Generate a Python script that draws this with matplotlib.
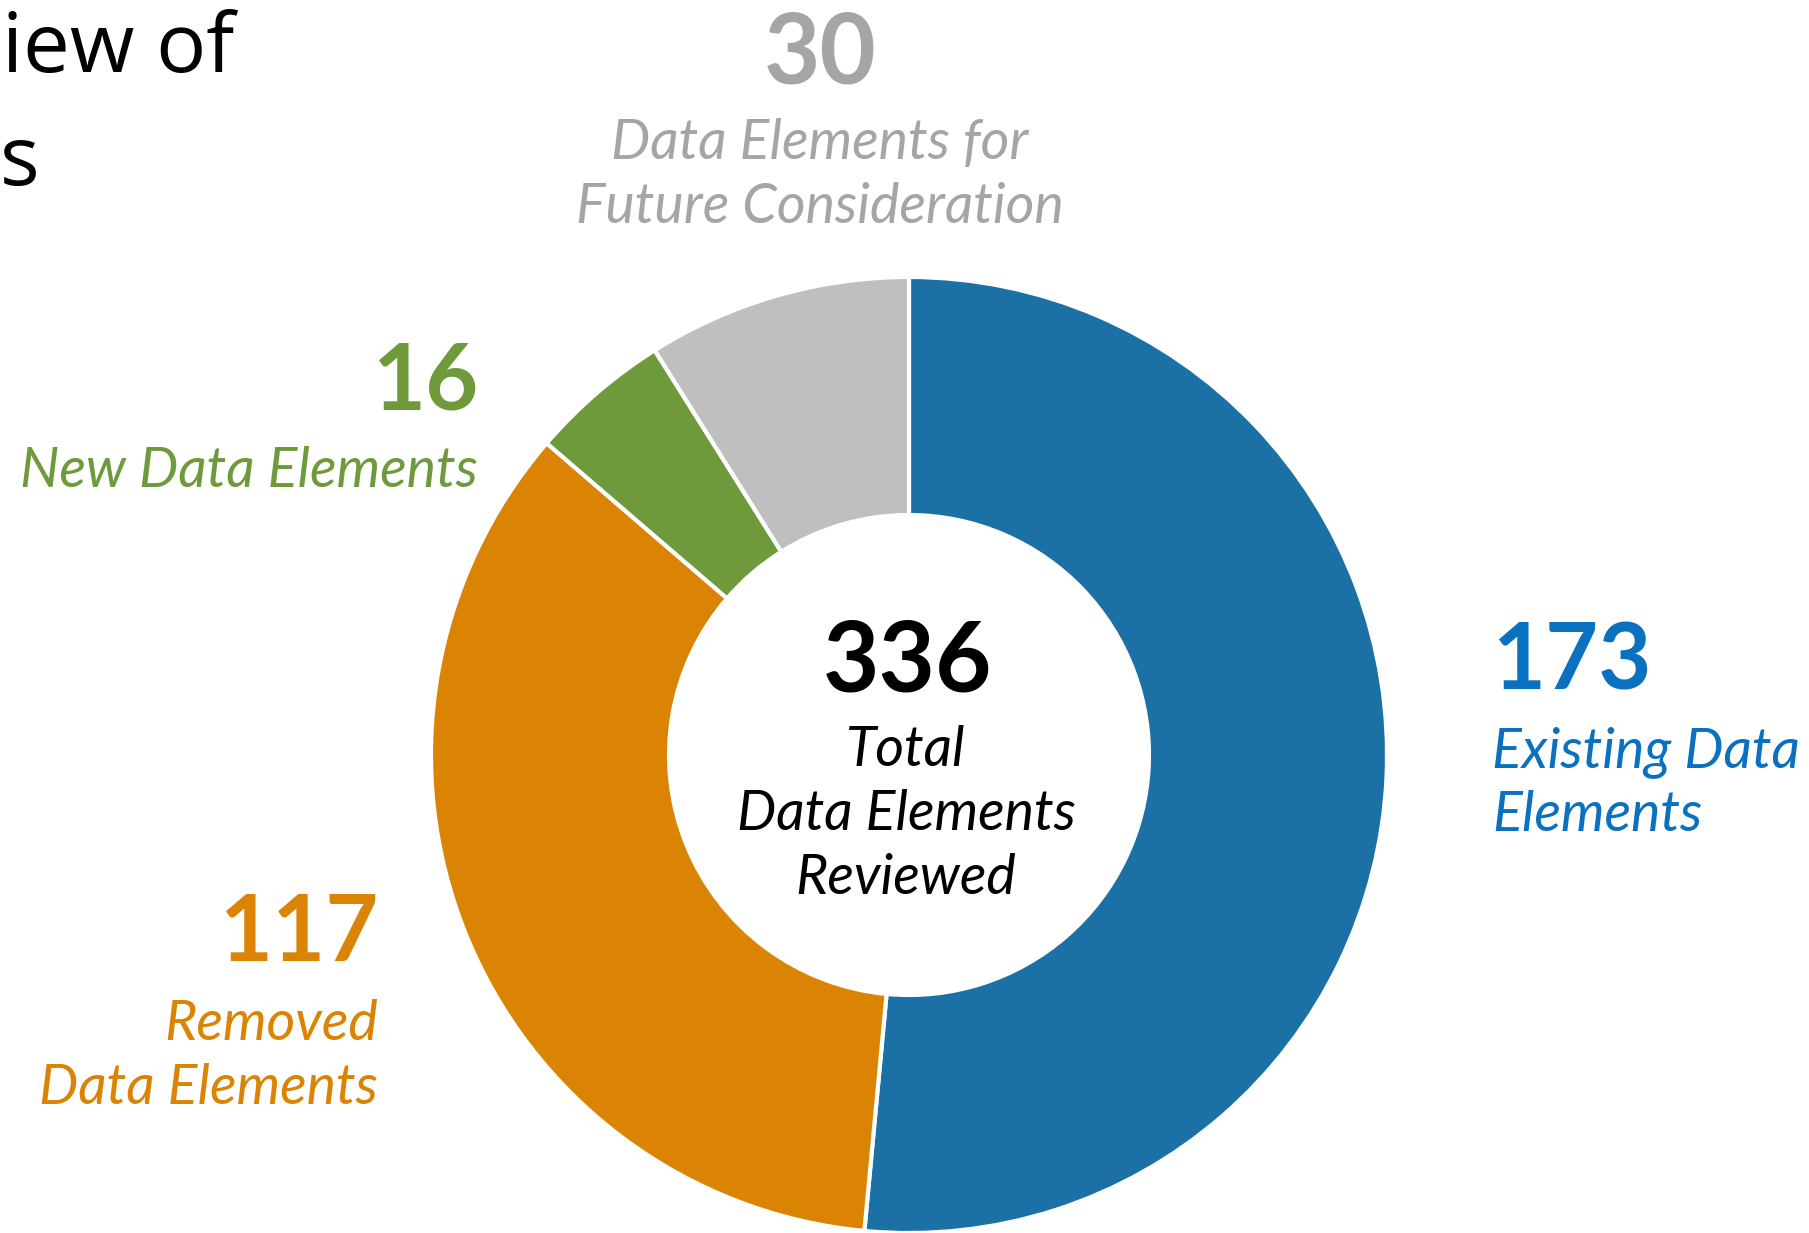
import matplotlib
matplotlib.use("Agg")
from matplotlib import pyplot as plt

# data
labels = ['Existing Data\nElements', 'Removed\nData Elements', 'New Data Elements',
          'Data Elements for\nFuture Consideration']
counts = [173, 117, 16, 30]
total_label = 'Total\nData Elements\nReviewed'

wedge_colors = ['#1B70A5', '#DB8403', '#6E9A3C', '#BFBFBF']
text_colors = ['#0A70C0', '#DB8403', '#6E9A3C', '#A5A5A5']

W, H = 1809, 1233
fig = plt.figure(figsize=(W / 100, H / 100), dpi=100)
ax = fig.add_axes([0, 0, 1, 1])

CX, CY = 909, H - 755
R = 478
ax.pie(counts, colors=wedge_colors, startangle=90, counterclock=False,
       center=(CX, CY), radius=R, frame=True,
       wedgeprops=dict(width=238, edgecolor='white', linewidth=3))
ax.set_xlim(0, W)
ax.set_ylim(0, H)
ax.set_aspect('equal')
ax.axis('off')

FONT = 'Lato'
NUM_SIZE = 66
LBL_SIZE = 40
LINE_STEP = 64

# x, baseline of number, baseline of first label line, ha, number size
spots = [
    (1492, H - 690, H - 767, 'left', NUM_SIZE),
    (378, H - 961, H - 1040, 'right', NUM_SIZE),
    (478, H - 410, H - 487, 'right', NUM_SIZE),
    (820, H - 83, H - 159, 'center', NUM_SIZE + 4),
]

def put_lines(x, y0, text, col, ha):
    for i, line in enumerate(text.split('\n')):
        ax.text(x, y0 - i * LINE_STEP, line, color=col, fontsize=LBL_SIZE,
                style='italic', family=FONT, ha=ha, va='baseline')

for (x, yn, yl, ha, ns), n, lab, col in zip(spots, counts, labels, text_colors):
    ax.text(x, yn, str(n), color=col, fontsize=ns, fontweight='bold',
            family=FONT, ha=ha, va='baseline')
    put_lines(x, yl, lab, col, ha)

ax.text(907, H - 692, str(sum(counts)), color='black', fontsize=NUM_SIZE + 4,
        fontweight='bold', family=FONT, ha='center', va='baseline')
put_lines(906, H - 766, total_label, 'black', 'center')

# what is visible of the slide title at the left edge
ax.text(2, H - 72, 'iew of', color='black', fontsize=60,
        family='Open Sans', ha='left', va='baseline')
ax.text(0, H - 185, 's', color='black', fontsize=60,
        family='Open Sans', ha='left', va='baseline')

fig.savefig('out.png', dpi=100)
